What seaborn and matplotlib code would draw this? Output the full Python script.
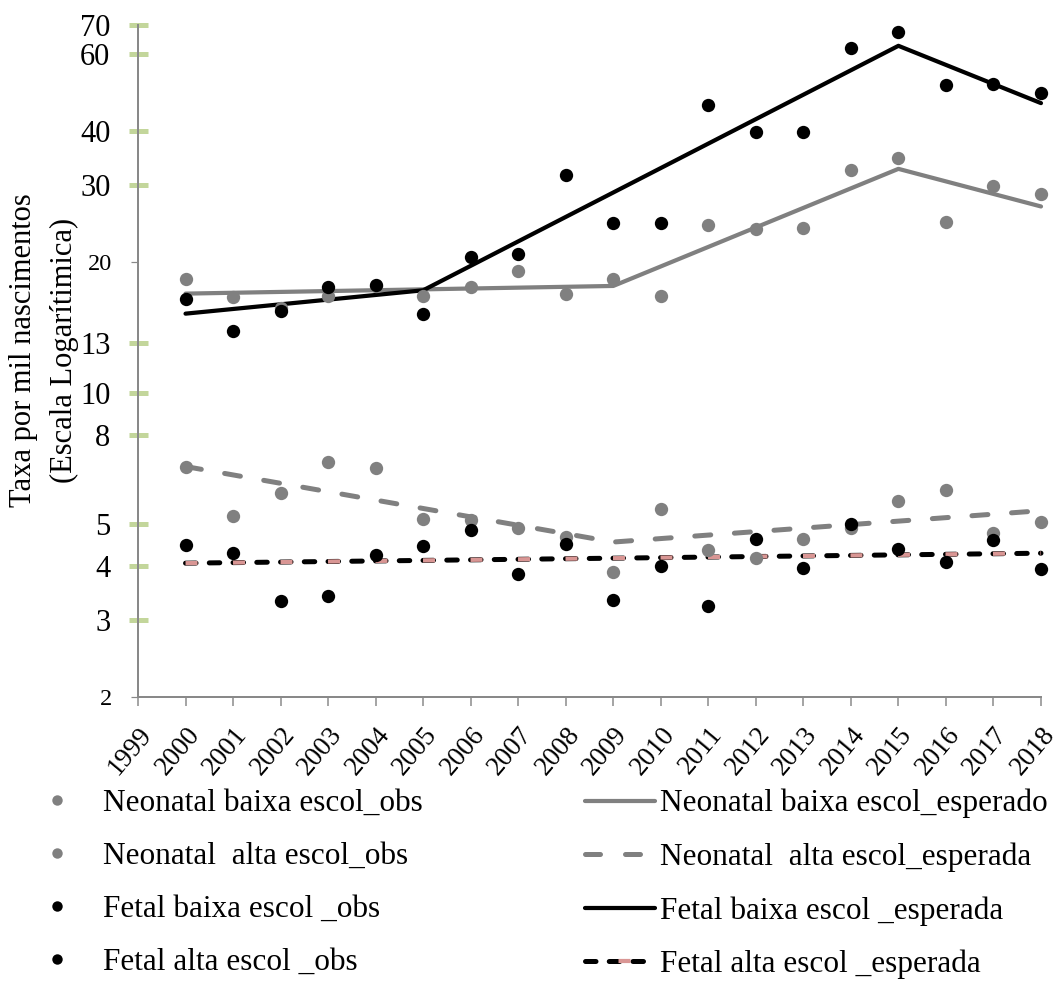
import matplotlib
matplotlib.use("Agg")
import matplotlib.pyplot as plt
import seaborn as sns
import pandas as pd
from matplotlib.ticker import FixedLocator, FixedFormatter
from matplotlib.lines import Line2D

# ---------------- data ----------------
years = list(range(2000, 2019))
neo_baixa_obs = [18.3, 16.6, 15.7, 16.7, 17.6, 16.7, 17.5, 19.0, 16.9, 18.3, 16.7,
                 24.3, 23.8, 23.9, 32.5, 34.7, 24.7, 29.8, 28.6]
neo_alta_obs = [6.77, 5.22, 5.90, 6.95, 6.73, 5.13, 5.10, 4.88, 4.67, 3.88, 5.41,
                4.35, 4.17, 4.61, 4.88, 5.64, 5.98, 4.76, 5.04]
fet_baixa_obs = [16.4, 13.9, 15.4, 17.5, 17.7, 15.2, 20.5, 20.8, 31.7, 24.5, 24.5,
                 45.9, 39.7, 39.7, 62.0, 67.3, 50.9, 51.2, 48.8]
fet_alta_obs = [4.47, 4.28, 3.33, 3.41, 4.24, 4.45, 4.84, 3.84, 4.49, 3.34, 4.00,
                3.23, 4.61, 3.95, 4.99, 4.38, 4.08, 4.59, 3.94]

neo_baixa_exp_years = [2000, 2009, 2015, 2018]
neo_baixa_exp = [16.9, 17.6, 32.7, 26.8]
fet_baixa_exp_years = [2000, 2005, 2015, 2018]
fet_baixa_exp = [15.2, 17.2, 62.7, 46.3]
neo_alta_exp_years = [2000, 2009, 2018]
neo_alta_exp = [6.77, 4.54, 5.36]
fet_alta_exp_years = [2000, 2018]
fet_alta_exp = [4.06, 4.28]

x_tick_years = list(range(1999, 2019))
y_major_ticks = [2, 20]
y_minor_ticks = [3, 4, 5, 8, 10, 13, 30, 40, 60, 70]

obs_labels = ["Neonatal baixa escol_obs", "Neonatal  alta escol_obs",
              "Fetal baixa escol _obs", "Fetal alta escol _obs"]
exp_labels = ["Neonatal baixa escol_esperado", "Neonatal  alta escol_esperada",
              "Fetal baixa escol _esperada", "Fetal alta escol _esperada"]
ylabel = "Taxa por mil nascimentos\n(Escala Logarítimica)"

# ---------------- style ----------------
sns.set_theme(style="white")
plt.rcParams["font.family"] = ["Liberation Serif", "DejaVu Serif"]
plt.rcParams["lines.scale_dashes"] = False
plt.rcParams["text.color"] = "black"
plt.rcParams["axes.labelcolor"] = "black"
plt.rcParams["xtick.color"] = "black"
plt.rcParams["ytick.color"] = "black"

GRAY = "#808080"
BLACK = "#000000"
PINK = "#D99694"
GREEN = "#C3D69B"
AXIS = "#898989"
PX = 0.72  # points per pixel at dpi 100

fig = plt.figure(figsize=(10.6, 9.81), dpi=100)
ax = fig.add_axes([138/1060, 1-697/981, (1041-138)/1060, (697-25)/981])

def frame(xs, ys):
    return pd.DataFrame({"ano": xs, "taxa": ys})

# expected lines
gray_dash = (0, (16*PX, 23.7*PX))
black_dash = (0, (10.5*PX, 13.25*PX))
pink_dash = (0, (12*PX, 35.5*PX))

sns.lineplot(data=frame(neo_baixa_exp_years, neo_baixa_exp), x="ano", y="taxa",
             color=GRAY, lw=4.2*PX, ax=ax, zorder=2, clip_on=False)
sns.lineplot(data=frame(fet_baixa_exp_years, fet_baixa_exp), x="ano", y="taxa",
             color=BLACK, lw=4.2*PX, ax=ax, zorder=2, clip_on=False)
sns.lineplot(data=frame(neo_alta_exp_years, neo_alta_exp), x="ano", y="taxa",
             color=GRAY, lw=5*PX, linestyle=gray_dash, dash_capstyle="round",
             ax=ax, zorder=2, clip_on=False)
sns.lineplot(data=frame(fet_alta_exp_years, fet_alta_exp), x="ano", y="taxa",
             color=BLACK, lw=5*PX, linestyle=black_dash, dash_capstyle="round",
             ax=ax, zorder=2, clip_on=False)
sns.lineplot(data=frame(fet_alta_exp_years, fet_alta_exp), x="ano", y="taxa",
             color=PINK, lw=4.2*PX, linestyle=pink_dash, dash_capstyle="butt",
             ax=ax, zorder=2.1, clip_on=False)

# observed points
MS = 92
for vals, col in [(neo_baixa_obs, GRAY), (neo_alta_obs, GRAY),
                  (fet_baixa_obs, BLACK), (fet_alta_obs, BLACK)]:
    sns.scatterplot(data=frame(years, vals), x="ano", y="taxa", color=col, s=MS,
                    linewidth=0, ax=ax, zorder=3, clip_on=False, legend=False)

# ---------------- axes ----------------
ax.set_yscale("log")
ax.set_ylim(2, 70)
ax.set_xlim(1999, 2018)
ax.yaxis.set_major_locator(FixedLocator(y_major_ticks))
ax.yaxis.set_major_formatter(FixedFormatter([str(v) for v in y_major_ticks]))
ax.yaxis.set_minor_locator(FixedLocator(y_minor_ticks))
ax.yaxis.set_minor_formatter(FixedFormatter([str(v) for v in y_minor_ticks]))
ax.tick_params(axis="y", which="major", direction="out", length=7*PX, width=1.2*PX,
               color=AXIS, labelsize=17.5, pad=13.5, left=True, labelcolor="black")
ax.tick_params(axis="y", which="minor", direction="inout", length=19*PX, width=5*PX,
               color=GREEN, labelsize=22, pad=13.0, left=True, labelcolor="black")

ax.set_xticks(x_tick_years)
ax.set_xticklabels([str(y) for y in x_tick_years], rotation=50, ha="right",
                   va="top", rotation_mode="anchor")
ax.tick_params(axis="x", which="major", direction="out", length=9*PX, width=1.5*PX,
               color=AXIS, labelsize=19.5, pad=11.5, bottom=True, labelcolor="black")

for s in ["top", "right"]:
    ax.spines[s].set_visible(False)
for s in ["left", "bottom"]:
    ax.spines[s].set_color(AXIS)
    ax.spines[s].set_linewidth(2*PX)
ax.grid(False)

ax.set_xlabel("")
ax.set_ylabel(ylabel, fontsize=22, linespacing=1.5, va="center", ha="center",
              color="black")
ax.yaxis.set_label_coords(-(138-44)/903, (697-350)/672)

# ---------------- legend ----------------
obs_handles = [Line2D([], [], ls="none", marker="o", markersize=7.5, color=c, mec="none")
               for c in [GRAY, GRAY, BLACK, BLACK]]
exp_handles = [
    Line2D([], [], color=GRAY, lw=4.2*PX),
    Line2D([], [], color=GRAY, lw=5*PX, linestyle=(0, (15*PX, 25*PX)), dash_capstyle="round"),
    Line2D([], [], color=BLACK, lw=4.2*PX),
    (Line2D([], [], color=BLACK, lw=5*PX, linestyle=black_dash, dash_capstyle="round"),
     Line2D([], [], color=PINK, lw=4.2*PX, linestyle=(14*PX, (12*PX, 35.5*PX)))),
]
common = dict(loc="upper left", frameon=False, fontsize=22.5, handlelength=50.4/22.5,
              labelspacing=0.77, borderpad=0, borderaxespad=0, labelcolor="black")
fig.legend(obs_handles, obs_labels, bbox_to_anchor=(22/1060, 1-789/981),
           handletextpad=0.35, **common)
fig.legend(exp_handles, exp_labels, bbox_to_anchor=(585/1060, 1-789/981),
           handletextpad=0.17, **common)

fig.savefig("out.png", dpi=100)
